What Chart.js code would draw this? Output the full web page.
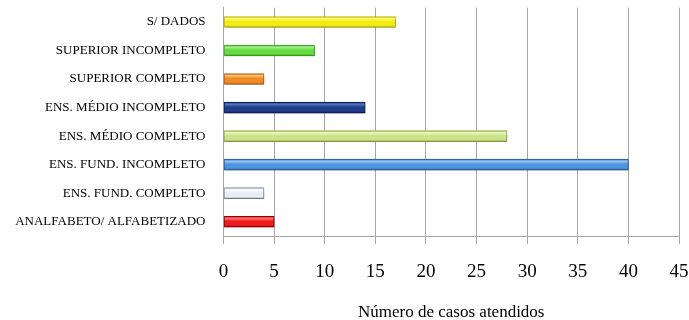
<!DOCTYPE html>
<html>
<head>
<meta charset="utf-8">
<script src="https://cdn.jsdelivr.net/npm/chart.js@4.4.1/dist/chart.umd.min.js"></script>
<style>
  html, body { margin:0; padding:0; background:#fff; }
  #wrap { width:689px; height:320px; }
</style>
</head>
<body>
<div id="wrap"><canvas id="c" width="689" height="320"></canvas></div>
<script>
/* escolaridade dos casos atendidos — top category first */
const categorias = ['S/ DADOS', 'SUPERIOR INCOMPLETO', 'SUPERIOR COMPLETO',
  'ENS. MÉDIO INCOMPLETO', 'ENS. MÉDIO COMPLETO', 'ENS. FUND. INCOMPLETO',
  'ENS. FUND. COMPLETO', 'ANALFABETO/ ALFABETIZADO'];
const casos = [17, 9, 4, 14, 28, 40, 4, 5];
const xTicks = [0, 5, 10, 15, 20, 25, 30, 35, 40, 45];
const tituloX = 'Número de casos atendidos';

// [top highlight, body, bottom shade] per bar
const tons = [
  ['#ffff70', '#f2ec12', '#bdb400'],
  ['#a8f590', '#62dc3e', '#3c9e22'],
  ['#ffc070', '#ee8a20', '#b0580c'],
  ['#5878c0', '#1f3d8c', '#0e2260'],
  ['#eef8c0', '#cde38a', '#98b04e'],
  ['#9cc8f4', '#4e94de', '#2c66ac'],
  ['#ffffff', '#e8eef4', '#a8b4c2'],
  ['#ff7878', '#ee1c1c', '#a80000']
];
const bordas = ['#c8c000', '#48b02c', '#c06810', '#0c1e58', '#a0b858', '#2a64a8', '#8c98a8', '#a00000'];

const serif = '"Liberation Serif", "Times New Roman", serif';
const BAR = 11;

function grad(ctx) {
  const ch = ctx.chart, i = ctx.dataIndex;
  if (!ch.chartArea || !ch.scales.y) return tons[i][1];
  const y = ch.scales.y.getPixelForValue(i);
  const g = ch.ctx.createLinearGradient(0, y - BAR / 2, 0, y + BAR / 2);
  g.addColorStop(0, tons[i][2]);
  g.addColorStop(0.18, tons[i][0]);
  g.addColorStop(0.45, tons[i][1]);
  g.addColorStop(0.8, tons[i][1]);
  g.addColorStop(1, tons[i][2]);
  return g;
}

const shadow = {
  id: 'barShadow',
  beforeDatasetsDraw(ch) { const c = ch.ctx; c.save();
    c.shadowColor = 'rgba(0,0,0,0.28)'; c.shadowBlur = 4; c.shadowOffsetX = 1; c.shadowOffsetY = 2; },
  afterDatasetsDraw(ch) { ch.ctx.restore(); }
};

new Chart(document.getElementById('c'), {
  type: 'bar',
  data: { labels: categorias, datasets: [{
    data: casos, backgroundColor: grad, borderColor: bordas,
    borderWidth: 1, barThickness: BAR, borderSkipped: false }] },
  plugins: [shadow],
  options: {
    indexAxis: 'y', responsive: false, animation: false,
    layout: { padding: 0 },
    plugins: { legend: { display: false }, tooltip: { enabled: false } },
    scales: {
      x: {
        min: 0, max: 45,
        afterBuildTicks: s => { s.ticks = xTicks.map(v => ({ value: v })); },
        // pin plot box: axis height and right gap instead of label-driven padding
        afterFit: s => { s.height = 84; s.paddingLeft = 0; s.paddingRight = 10; },
        grid: { color: '#a6a6a6', lineWidth: 1, tickLength: 8, drawTicks: true },
        border: { color: '#a6a6a6' },
        ticks: { font: { family: serif, size: 19 }, color: '#000', padding: 17, maxRotation: 0 },
        title: { display: true, text: tituloX, font: { family: serif, size: 17 }, color: '#000',
                 padding: { top: 0, bottom: -3 } }
      },
      y: {
        afterFit: s => { s.width = 223.5; s.paddingTop = 7.7; s.paddingBottom = 0; },
        grid: { display: false },
        border: { color: '#a6a6a6' },
        ticks: { font: { family: serif, size: 13 }, color: '#000', padding: 10, autoSkip: false }
      }
    }
  }
});
</script>
</body>
</html>
